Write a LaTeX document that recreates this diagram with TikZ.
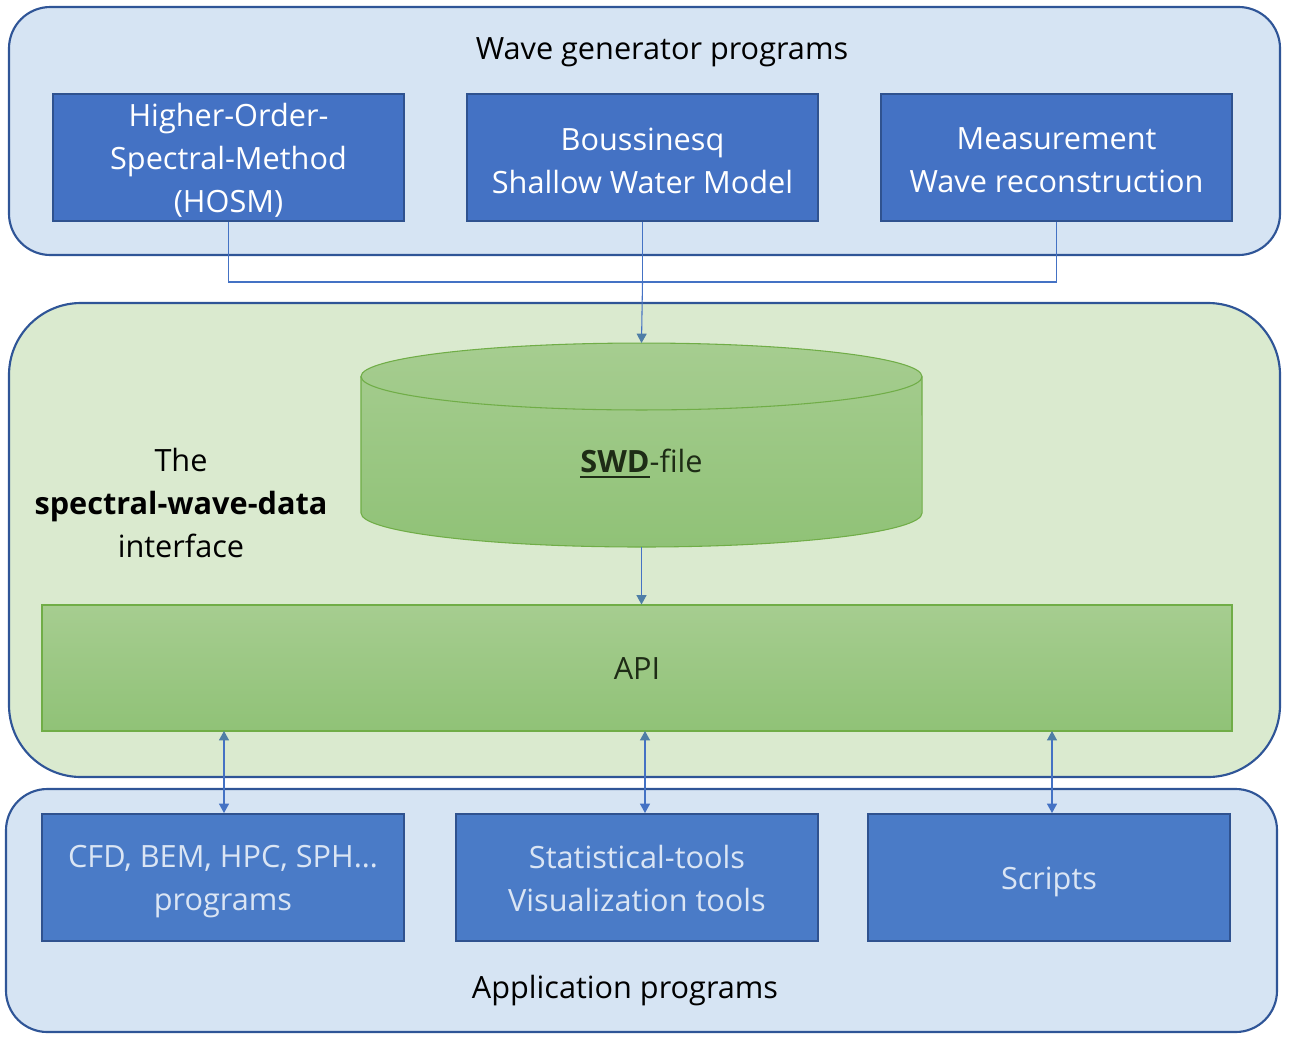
\documentclass[tikz,border=0pt]{standalone}
\usepackage{fontspec}
\setmainfont{Open Sans}
\usetikzlibrary{arrows.meta}
\definecolor{contblue}{HTML}{D6E4F3}
\definecolor{contgreen}{HTML}{DAEACF}
\definecolor{contedge}{HTML}{2F5597}
\definecolor{boxfill}{HTML}{4472C4}
\definecolor{boxedge}{HTML}{2F528F}
\definecolor{appfill}{HTML}{4A7BC7}
\definecolor{apptext}{HTML}{DAE5F4}
\definecolor{greentop}{HTML}{A6CD90}
\definecolor{greenbot}{HTML}{90C277}
\definecolor{greenedge}{HTML}{70AD47}
\definecolor{darktext}{HTML}{1E2C16}
\definecolor{linkblue}{HTML}{4472C4}
\definecolor{tipsteel}{HTML}{4E7EA6}
\newcommand\swdul[1]{\setbox0\hbox{#1}\rlap{\rule[-4pt]{\wd0}{1.6pt}}\box0}
\begin{document}
\begin{tikzpicture}[x=0.75pt,y=-0.75pt,
  txt/.style={font=\fontsize{23pt}{32.25pt}\selectfont, align=center, inner sep=0pt},
  container/.style={draw=contedge, line width=1.6pt},
  genbox/.style={draw=boxedge, fill=boxfill, line width=1.5pt,
     minimum width=263.25pt, minimum height=95.25pt, inner sep=0pt},
  appbox/.style={draw=boxedge, fill=appfill, line width=1.5pt,
     minimum width=271.5pt, minimum height=95.25pt, inner sep=0pt},
  gentext/.style={txt, text=white},
  apptxt/.style={txt, text=apptext},
  link/.style={draw=linkblue, line width=0.8pt},
]
\useasboundingbox (0,0) rectangle (1291,1039);

% containers
\draw[container, fill=contblue, rounded corners=31pt] (9,7) rectangle (1280,255);
\draw[container, fill=contgreen, rounded corners=54pt] (9,303) rectangle (1280,777);
\draw[container, fill=contblue, rounded corners=31pt] (6,789) rectangle (1277,1032);

% titles
\node[txt] (gentitle) at (662,52) {Wave generator programs};
\node[txt] (apptitle) at (625,990.5) {Application programs};
\node[txt] (iface) at (181,503) {The\\\textbf{spectral-wave-data}\\interface};

% generator boxes
\node[genbox] (hosm) at (228.5,157.5) {};
\node[genbox] (bous) at (642.5,157.5) {};
\node[genbox] (meas) at (1056.5,157.5) {};
\node[gentext] (hosmt) at (228.5,160.5) {Higher-Order-\\Spectral-Method\\(HOSM)};
\node[gentext] (boust) at (642.5,160.5) {Boussinesq\\Shallow Water Model};
\node[gentext] (meast) at (1056.5,160.5) {Measurement\\Wave reconstruction};

% cylinder (SWD file)
\shade[top color=greentop, bottom color=greenbot, draw=greenedge, line width=0.8pt]
  (361,376.5) -- (361,513) arc[start angle=180, end angle=360, x radius=210.4pt, y radius=25.5pt]
  -- (922,376.5) arc[start angle=0, end angle=180, x radius=210.4pt, y radius=25.1pt] -- cycle;
\draw[greenedge, line width=0.8pt] (361,376.5) arc[start angle=180, end angle=360, x radius=210.4pt, y radius=25.1pt];
\coordinate (cyltop) at (641.5,343);
\coordinate (cylbot) at (641.5,547);
\node[txt, text=darktext] (swd) at (641.5,463.5) {\swdul{\textbf{SWD}}-file};

% API
\node[txt, text=darktext, draw=greenedge, line width=0.8pt, top color=greentop, bottom color=greenbot,
  minimum width=892.5pt, minimum height=94.5pt] (api) at (637,668) {API};

% application boxes
\node[appbox] (cfd) at (223,877.5) {};
\node[appbox] (stat) at (637,877.5) {};
\node[appbox] (scr) at (1049,877.5) {};
\node[apptxt] (cfdt) at (223,882) {CFD, BEM, HPC, SPH…\\programs};
\node[apptxt] (statt) at (637,878.5) {Statistical-tools\\Visualization tools};
\node[apptxt] (scrt) at (1049,882) {Scripts};

% generator connectors
\coordinate (j1) at (228.5,282);
\coordinate (j2) at (642.5,282);
\coordinate (j3) at (1056.5,282);
\draw[link] (hosm.south) -- (j1) -- (j3) -- (meas.south);
\draw[link] (bous.south) -- (j2);
\draw[link, -{Triangle[width=7.5pt,length=7pt,color=tipsteel]}] (j2) -- (cyltop);
\draw[link, -{Triangle[width=7.5pt,length=7pt,color=tipsteel]}] (cylbot) -- (api.north -| cylbot);

% API <-> applications
\coordinate (a1) at (224,731);
\coordinate (a2) at (645,731);
\coordinate (a3) at (1052,731);
\foreach \c/\b in {a1/cfd, a2/stat, a3/scr}{
  \draw[link, {Triangle[width=7.5pt,length=7pt,color=tipsteel]}-{Triangle[width=7.5pt,length=7pt]}]
    (\c) -- (\c |- \b.north);
}
\end{tikzpicture}
\end{document}
